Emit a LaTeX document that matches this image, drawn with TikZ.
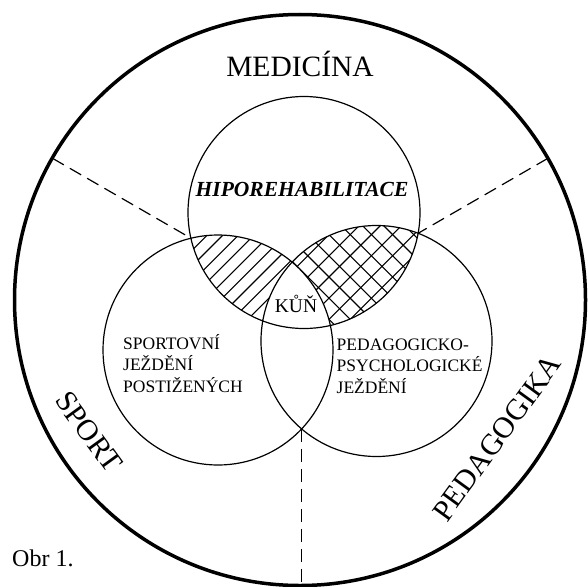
\documentclass[tikz,border=0pt]{standalone}
\usepackage{fontspec}
\setmainfont{Liberation Serif}
\begin{document}
\begin{tikzpicture}[x=1pt,y=-1pt,
  circ/.style={line width=1.2pt},
  outerc/.style={line width=3.5pt},
  sect/.style={line width=1.2pt, dash pattern=on 13pt off 7pt},
  hatchline/.style={line width=1.1pt},
  bigtxt/.style={font=\fontsize{30}{36}\selectfont, inner sep=0pt},
  lbl/.style={font=\fontsize{17.5}{21}\selectfont, inner sep=0pt, anchor=base west},
]
\useasboundingbox (0,0) rectangle (588,586);
\coordinate (cO) at (300,300);
\coordinate (cT) at (304,212.5);
\coordinate (cL) at (218,350);
\coordinate (cR) at (376.5,341);
\coordinate (tl) at (190.9,238.2);
\coordinate (tr) at (418.1,233.3);
\coordinate (lr) at (301.6,429.0);
\coordinate (oL) at (52.5,158.3);
\coordinate (oR) at (547.9,158.3);
\coordinate (oB) at (301.6,586);
% diagonal hatch: top and left
\begin{scope}
  \clip (cT) circle (116pt);
  \clip (cL) circle (115pt);
  \foreach \c in {380,395.6,...,720} \draw[hatchline] (\c-150,150) -- (\c-450,450);
\end{scope}
% cross hatch: top and right
\begin{scope}
  \clip (cT) circle (116pt);
  \clip (cR) circle (115.5pt);
  \foreach \c in {500,521.2,...,780} \draw[hatchline] (\c-150,150) -- (\c-450,450);
  \foreach \c in {-160,-138.8,...,300} \draw[hatchline] (150+\c,150) -- (450+\c,450);
\end{scope}
% blank triple region
\begin{scope}
  \clip (cT) circle (116pt);
  \clip (cL) circle (115pt);
  \fill[white] (cR) circle (115.5pt);
\end{scope}
% circles
\draw[circ] (cT) circle (116pt);
\draw[circ] (cL) circle (115pt);
\draw[circ] (cR) circle (115.5pt);
\draw[outerc] (cO) circle (285.5pt);
% sector lines
\draw[sect] (oL) -- (tl);
\draw[sect] (oR) -- (tr);
\draw[sect] (lr) -- (oB);
% texts
\node[font=\fontsize{29.5}{35}\selectfont, inner sep=0pt, anchor=base] (med) at (300,76) {MEDICÍNA};
\node[font=\fontsize{21.5}{26}\selectfont\bfseries\itshape, inner sep=0pt, anchor=base] (hip) at (302,196) {HIPOREHABILITACE};
\node[font=\fontsize{19.5}{23}\selectfont, inner sep=0pt, anchor=base] (kun) at (296,312) {KŮŇ};
\node[lbl] (s1) at (123,349.5) {SPORTOVNÍ};
\node[lbl] (s2) at (123,370.8) {JEŽDĚNÍ};
\node[lbl] (s3) at (123,392) {POSTIŽENÝCH};
\node[lbl] (p1) at (336.5,350.5) {PEDAGOGICKO-};
\node[lbl] (p2) at (336.5,371.8) {PSYCHOLOGICKÉ};
\node[lbl] (p3) at (336.5,393) {JEŽDĚNÍ};
\node[bigtxt, rotate=-54] (sport) at (89,432) {SPORT};
\node[bigtxt, rotate=54] (ped) at (497,438) {PEDAGOGIKA};
\node[font=\fontsize{24}{28}\selectfont, inner sep=0pt, anchor=base west] (obr) at (12,566) {Obr 1.};
\end{tikzpicture}
\end{document}
